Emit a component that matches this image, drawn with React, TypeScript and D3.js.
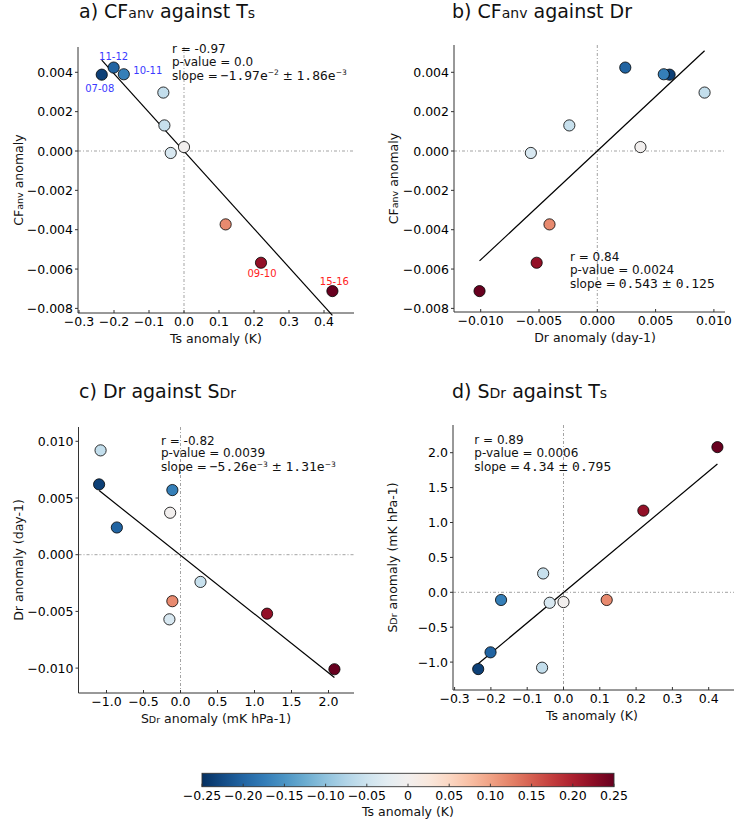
import React from "react";
import * as d3 from "d3";

// ---- data ----
const years = ["07-08", "11-12", "10-11", "", "", "", "", "", "09-10", "15-16"];
const tsAnom = [-0.235, -0.201, -0.172, -0.059, -0.056, -0.038, 0.0, 0.119, 0.22, 0.424];
const cfAnom = [0.00388, 0.00424, 0.0039, 0.00297, 0.0013, -0.0001, 0.0002, -0.00373, -0.00568, -0.00712];
const drAnom = [0.0062, 0.0024, 0.0057, 0.0092, -0.0024, -0.0057, 0.0037, -0.0041, -0.0052, -0.0101];
const sdrAnom = [-1.1, -0.86, -0.11, -1.08, 0.27, -0.15, -0.14, -0.11, 1.17, 2.08];

const tsTicks = [-0.3, -0.2, -0.1, 0, 0.1, 0.2, 0.3, 0.4];
const cfTicks = [-0.008, -0.006, -0.004, -0.002, 0, 0.002, 0.004];
const drTicks = [-0.01, -0.005, 0, 0.005, 0.01];
const sdrTicks = [-1.0, -0.5, 0, 0.5, 1.0, 1.5, 2.0];
const cbarTicks = [-0.25, -0.2, -0.15, -0.1, -0.05, 0, 0.05, 0.1, 0.15, 0.2, 0.25];
const cbarLabels = ["−0.25", "−0.20", "−0.15", "−0.10", "−0.05", "0", "0.05", "0.10", "0.15", "0.20", "0.25"];

const rTexts = ["r = -0.97", "r = 0.84", "r = -0.82", "r = 0.89"];
const pTexts = ["p-value = 0.0", "p-value = 0.0024", "p-value = 0.0039", "p-value = 0.0006"];
const slopeMain = [["−1.97e", "1.86e"], ["0.543", "0.125"], ["−5.26e", "1.31e"], ["4.34", "0.795"]];
const slopeExp = [["−2", "−3"], ["", ""], ["−3", "−3"], ["", ""]];

const FONT = "DejaVu Sans, sans-serif";
const MONO = "DejaVu Sans Mono, monospace";

const colorOf = (t: number) => d3.interpolateRdBu(1 - Math.max(0, Math.min(1, (t + 0.25) / 0.5)));

function fit(xs: number[], ys: number[]) {
  const mx = d3.mean(xs)!, my = d3.mean(ys)!;
  let sxy = 0, sxx = 0;
  xs.forEach((x, i) => { sxy += (x - mx) * (ys[i] - my); sxx += (x - mx) * (x - mx); });
  const b = sxy / sxx;
  return { b, a: my - b * mx };
}

type Part = { t: string; small?: boolean };

const panels = [
  {
    title: [{ t: "a) CF" }, { t: "anv", small: true }, { t: " against T" }, { t: "s", small: true }] as Part[],
    titleX: 79, titleY: 18,
    xs: tsAnom, ys: cfAnom,
    xa: [0, 0.4], xr: [184, 324], ya: [0, 0.004], yr: [151, 72.3],
    sx: [78, 354], sy: [47, 313],
    xticks: tsTicks, xfmt: d3.format(".1f"), yticks: cfTicks, yfmt: d3.format(".3f"),
    xlabel: [{ t: "Ts anomaly (K)" }] as Part[], xlabelX: 216,
    ylabel: [{ t: "CF" }, { t: "anv", small: true }, { t: " anomaly" }] as Part[], ylabelX: 23,
    statX: 172, statY: 53, labels: true,
  },
  {
    title: [{ t: "b) CF" }, { t: "anv", small: true }, { t: " against Dr" }] as Part[],
    titleX: 452, titleY: 18,
    xs: drAnom, ys: cfAnom,
    xa: [0, 0.01], xr: [597.3, 713.9], ya: [0, 0.004], yr: [151, 72.3],
    sx: [454, 725], sy: [45, 312],
    xticks: drTicks, xfmt: d3.format(".3f"), yticks: cfTicks, yfmt: d3.format(".3f"),
    xlabel: [{ t: "Dr anomaly (day-1)" }] as Part[], xlabelX: 595,
    ylabel: [{ t: "CF" }, { t: "anv", small: true }, { t: " anomaly" }] as Part[], ylabelX: 398,
    statX: 570, statY: 261, labels: false,
  },
  {
    title: [{ t: "c) Dr against S" }, { t: "Dr", small: true }] as Part[],
    titleX: 79, titleY: 398,
    xs: sdrAnom, ys: drAnom,
    xa: [0, 2], xr: [180.5, 328.5], ya: [0, 0.01], yr: [554.7, 441.3],
    sx: [78.5, 354], sy: [427, 693],
    xticks: sdrTicks, xfmt: d3.format(".1f"), yticks: drTicks, yfmt: d3.format(".3f"),
    xlabel: [{ t: "S" }, { t: "Dr", small: true }, { t: " anomaly (mK hPa-1)" }] as Part[], xlabelX: 216,
    ylabel: [{ t: "Dr anomaly (day-1)" }] as Part[], ylabelX: 23,
    statX: 161, statY: 444.5, labels: false,
  },
  {
    title: [{ t: "d) S" }, { t: "Dr", small: true }, { t: " against T" }, { t: "s", small: true }] as Part[],
    titleX: 452, titleY: 398,
    xs: tsAnom, ys: sdrAnom,
    xa: [0, 0.4], xr: [563.5, 708.7], ya: [0, 2], yr: [592.3, 452.7],
    sx: [453, 740], sy: [425, 690],
    xticks: tsTicks, xfmt: d3.format(".1f"), yticks: sdrTicks, yfmt: d3.format(".1f"),
    xlabel: [{ t: "Ts anomaly (K)" }] as Part[], xlabelX: 592,
    ylabel: [{ t: "S" }, { t: "Dr", small: true }, { t: " anomaly (mK hPa-1)" }] as Part[], ylabelX: 397,
    statX: 474.3, statY: 444, labels: false,
  },
];

const yearOffsets: [number, number][] = [
  [-2, 14], [0, -11], [24, -4], [0, 0], [0, 0], [0, 0], [0, 0], [0, 0], [1, 11], [2, -10],
];

function Parts({ parts, big, small }: { parts: Part[]; big: number; small: number }) {
  return (
    <>
      {parts.map((p, i) => (
        <tspan key={i} fontSize={p.small ? small : big}>{p.t}</tspan>
      ))}
    </>
  );
}

function Panel({ p, idx }: { p: (typeof panels)[number]; idx: number }) {
  const x = d3.scaleLinear().domain(p.xa).range(p.xr);
  const y = d3.scaleLinear().domain(p.ya).range(p.yr);
  const { a, b } = fit(p.xs, p.ys);
  const [xmin, xmax] = d3.extent(p.xs) as [number, number];
  const cx = x(0), cy = y(0);
  const spineColor = "#333";
  const lh = 12.8;
  return (
    <g>
      <text x={p.titleX} y={p.titleY} fontFamily={FONT} fill="#111">
        <Parts parts={p.title} big={19} small={14} />
      </text>
      {/* zero lines */}
      <line x1={cx} x2={cx} y1={p.sy[0]} y2={p.sy[1]} stroke="#999" strokeWidth={0.9} strokeDasharray="3,2,1,2" />
      <line x1={p.sx[0]} x2={p.sx[1]} y1={cy} y2={cy} stroke="#999" strokeWidth={0.9} strokeDasharray="3,2,1,2" />
      {/* spines */}
      <line x1={p.sx[0]} x2={p.sx[0]} y1={p.sy[0]} y2={p.sy[1]} stroke={spineColor} strokeWidth={1} />
      <line x1={p.sx[0]} x2={p.sx[1]} y1={p.sy[1]} y2={p.sy[1]} stroke={spineColor} strokeWidth={1} />
      {/* ticks */}
      {p.xticks.map((t, i) => (
        <g key={"xt" + i}>
          <line x1={x(t)} x2={x(t)} y1={p.sy[1]} y2={p.sy[1] - 3} stroke={spineColor} strokeWidth={1} />
          <text x={x(t)} y={p.sy[1] + 13} textAnchor="middle" fontFamily={FONT} fontSize={12.5} fill="#000">
            {p.xfmt(Math.abs(t) < 1e-12 ? 0 : t)}
          </text>
        </g>
      ))}
      {p.yticks.map((t, i) => (
        <g key={"yt" + i}>
          <line x1={p.sx[0] - 3} x2={p.sx[0]} y1={y(t)} y2={y(t)} stroke={spineColor} strokeWidth={1} />
          <text x={p.sx[0] - 5} y={y(t) + 4.5} textAnchor="end" fontFamily={FONT} fontSize={12.5} fill="#000">
            {p.yfmt(Math.abs(t) < 1e-12 ? 0 : t)}
          </text>
        </g>
      ))}
      {/* axis labels */}
      <text x={p.xlabelX} y={p.sy[1] + 30} textAnchor="middle" fontFamily={FONT} fill="#111">
        <Parts parts={p.xlabel} big={12.5} small={9.5} />
      </text>
      <text
        transform={`translate(${p.ylabelX},${(p.sy[0] + p.sy[1]) / 2}) rotate(-90)`}
        textAnchor="middle" fontFamily={FONT} fill="#111"
      >
        <Parts parts={p.ylabel} big={12.5} small={9.5} />
      </text>
      {/* regression line */}
      <line x1={x(xmin)} y1={y(a + b * xmin)} x2={x(xmax)} y2={y(a + b * xmax)} stroke="#000" strokeWidth={1.2} />
      {/* points */}
      {p.xs.map((xv, i) => (
        <circle key={"pt" + i} cx={x(xv)} cy={y(p.ys[i])} r={5.6} fill={colorOf(tsAnom[i])} stroke="#000" strokeWidth={0.8} />
      ))}
      {/* year labels */}
      {p.labels &&
        years.map((yr, i) =>
          yr ? (
            <text key={"yl" + i} x={x(p.xs[i]) + yearOffsets[i][0]} y={y(p.ys[i]) + yearOffsets[i][1] + 3.5}
              textAnchor="middle" fontFamily={FONT} fontSize={10} fill={tsAnom[i] < 0 ? "#3a3aff" : "#ff2222"}>
              {yr}
            </text>
          ) : null
        )}
      {/* stats */}
      <text x={p.statX} y={p.statY} fontFamily={FONT} fontSize={12} fill="#111">{rTexts[idx]}</text>
      <text x={p.statX} y={p.statY + lh} fontFamily={FONT} fontSize={12} fill="#111">{pTexts[idx]}</text>
      <text x={p.statX} y={p.statY + 2 * lh + 1.2} fontFamily={FONT} fontSize={12} fill="#111">
        <tspan>slope =</tspan>
        <tspan fontFamily={MONO} fontSize={13} dx={3}>{slopeMain[idx][0]}</tspan>
        {slopeExp[idx][0] && <tspan fontFamily={FONT} fontSize={7.5} dy={-4.5}>{slopeExp[idx][0]}</tspan>}
        <tspan fontFamily={FONT} fontSize={12} dy={slopeExp[idx][0] ? 4.5 : 0}>{" ± "}</tspan>
        <tspan fontFamily={MONO} fontSize={13}>{slopeMain[idx][1]}</tspan>
        {slopeExp[idx][1] && <tspan fontFamily={FONT} fontSize={7.5} dy={-4.5}>{slopeExp[idx][1]}</tspan>}
      </text>
    </g>
  );
}

function Colorbar() {
  const x = d3.scaleLinear().domain([-0.25, 0.25]).range([202, 614]);
  const stops = d3.range(0, 1.0001, 0.05);
  const y0 = 773.3, y1 = 786.7;
  return (
    <g>
      <defs>
        <linearGradient id="cbgrad" x1="0" x2="1" y1="0" y2="0">
          {stops.map((s, i) => (
            <stop key={i} offset={s} stopColor={d3.interpolateRdBu(1 - s)} />
          ))}
        </linearGradient>
      </defs>
      <rect x={202} y={y0} width={412} height={y1 - y0} fill="url(#cbgrad)" stroke="#333" strokeWidth={0.9} />
      {cbarTicks.map((t, i) => (
        <g key={i}>
          <line x1={x(t)} x2={x(t)} y1={y1} y2={y1 - 3} stroke="#333" strokeWidth={0.9} />
          <text x={x(t)} y={800} textAnchor="middle" fontFamily={FONT} fontSize={12.5} fill="#000">{cbarLabels[i]}</text>
        </g>
      ))}
      <text x={408} y={815.5} textAnchor="middle" fontFamily={FONT} fontSize={12.5} fill="#111">Ts anomaly (K)</text>
    </g>
  );
}

export default function App() {
  return (
    <svg width={734} height={826} style={{ display: "block", position: "absolute", left: 0, top: 0, background: "#fff" }}>
      <rect width={734} height={826} fill="#fff" />
      {panels.map((p, i) => (
        <Panel key={i} p={p} idx={i} />
      ))}
      <Colorbar />
    </svg>
  );
}
